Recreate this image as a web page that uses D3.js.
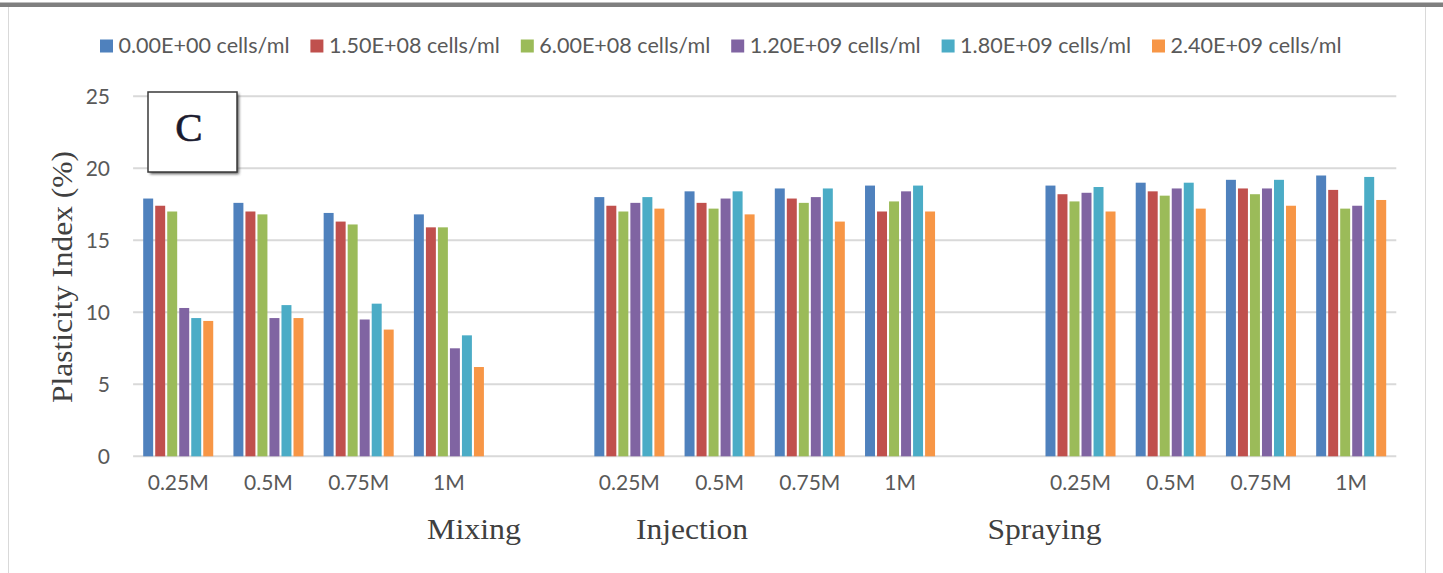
<!DOCTYPE html>
<html>
<head>
<meta charset="utf-8">
<script src="https://cdn.jsdelivr.net/npm/d3@7/dist/d3.min.js"></script>
<style>
  html, body { margin: 0; padding: 0; background: #fff; }
  svg { display: block; }
</style>
</head>
<body>
<svg id="chart" width="1443" height="573"></svg>
<script>
// data
const methods = ["Mixing", "Injection", "Spraying"];
const concentrations = ["0.25M", "0.5M", "0.75M", "1M"];
const seriesNames = ["0.00E+00 cells/ml", "1.50E+08 cells/ml", "6.00E+08 cells/ml",
                     "1.20E+09 cells/ml", "1.80E+09 cells/ml", "2.40E+09 cells/ml"];
const seriesColors = ["#4F81BD", "#C0504D", "#9BBB59", "#8064A2", "#4BACC6", "#F79646"];
const yTicks = [0, 5, 10, 15, 20, 25];

// one row per concentration, one value per series
const mixing = [
  [17.9, 17.4, 17.0, 10.3, 9.6, 9.4],
  [17.6, 17.0, 16.8, 9.6, 10.5, 9.6],
  [16.9, 16.3, 16.1, 9.5, 10.6, 8.8],
  [16.8, 15.9, 15.9, 7.5, 8.4, 6.2]
];
const injection = [
  [18.0, 17.4, 17.0, 17.6, 18.0, 17.2],
  [18.4, 17.6, 17.2, 17.9, 18.4, 16.8],
  [18.6, 17.9, 17.6, 18.0, 18.6, 16.3],
  [18.8, 17.0, 17.7, 18.4, 18.8, 17.0]
];
const spraying = [
  [18.8, 18.2, 17.7, 18.3, 18.7, 17.0],
  [19.0, 18.4, 18.1, 18.6, 19.0, 17.2],
  [19.2, 18.6, 18.2, 18.6, 19.2, 17.4],
  [19.5, 18.5, 17.2, 17.4, 19.4, 17.8]
];
const methodValues = [mixing, injection, spraying];

// build category slots (an empty slot between methods)
const slots = [];
methods.forEach((m, mi) => {
  concentrations.forEach((c, ci) => {
    slots.push({ key: m + "|" + c, label: c, values: methodValues[mi][ci] });
  });
  if (mi < methods.length - 1) slots.push({ key: "gap" + mi, label: "", values: [] });
});

const svg = d3.select("#chart");
const fontSans = "Lato, 'Open Sans', sans-serif";
const fontSerif = "'Liberation Serif', 'Times New Roman', serif";

// frame
svg.append("rect")
  .attr("x", 8.5).attr("y", 6.5)
  .attr("width", 1417).attr("height", 580)
  .attr("fill", "#fff").attr("stroke", "#d9d9d9").attr("stroke-width", 1);
svg.append("rect")
  .attr("x", 0).attr("y", 2.5)
  .attr("width", 1443).attr("height", 4.5)
  .attr("fill", "#7f7f7f");

const x0 = d3.scaleBand()
  .domain(slots.map(d => d.key))
  .range([133.1, 1396.3])
  .padding(0);

const groupPad = 10.1;
const x1 = d3.scaleBand()
  .domain(d3.range(seriesNames.length))
  .range([groupPad, x0.bandwidth() - groupPad])
  .paddingInner(0.17);

const y = d3.scaleLinear().domain([0, 25]).range([456.3, 96.3]);

// gridlines
svg.append("g")
  .selectAll("line")
  .data(yTicks)
  .enter().append("line")
  .attr("x1", x0.range()[0]).attr("x2", x0.range()[1])
  .attr("y1", d => y(d)).attr("y2", d => y(d))
  .attr("stroke", "#d9d9d9").attr("stroke-width", 2);

// y axis labels
const yAxis = svg.append("g")
  .attr("transform", "translate(110,0)")
  .call(d3.axisLeft(y).tickValues(yTicks).tickSize(0).tickPadding(0));
yAxis.select(".domain").remove();
yAxis.selectAll("text")
  .attr("fill", "#595959")
  .style("font-family", fontSans)
  .style("font-size", "21px");

// bars
const groups = svg.append("g")
  .selectAll("g")
  .data(slots)
  .enter().append("g")
  .attr("transform", d => `translate(${x0(d.key)},0)`);

groups.selectAll("rect")
  .data(d => d.values.map((v, i) => ({ i: i, v: v })))
  .enter().append("rect")
  .attr("x", d => x1(d.i))
  .attr("width", x1.bandwidth())
  .attr("y", d => y(d.v))
  .attr("height", d => y(0) - y(d.v))
  .attr("fill", d => seriesColors[d.i]);

// x axis category labels
const xAxis = svg.append("g")
  .attr("transform", "translate(0,475)")
  .call(d3.axisBottom(x0).tickSize(0).tickPadding(0).tickFormat(k => slots.find(s => s.key === k).label));
xAxis.select(".domain").remove();
xAxis.selectAll("text")
  .attr("fill", "#595959")
  .style("font-family", fontSans)
  .style("font-size", "21px");

// method labels under the axis
const methodLabelPos = [
  { text: "Mixing", cx: 474, w: 94 },
  { text: "Injection", cx: 692, w: 112 },
  { text: "Spraying", cx: 1044.5, w: 114 }
];
svg.append("g")
  .selectAll("text")
  .data(methodLabelPos)
  .enter().append("text")
  .attr("x", d => d.cx)
  .attr("y", 539)
  .attr("text-anchor", "middle")
  .attr("textLength", d => d.w)
  .attr("lengthAdjust", "spacingAndGlyphs")
  .attr("fill", "#404040")
  .style("font-family", fontSerif)
  .style("font-size", "29px")
  .text(d => d.text);

// y axis title
svg.append("text")
  .attr("transform", "translate(72,277) rotate(-90)")
  .attr("text-anchor", "middle")
  .attr("textLength", 252)
  .attr("lengthAdjust", "spacingAndGlyphs")
  .attr("fill", "#404040")
  .style("font-family", fontSerif)
  .style("font-size", "30px")
  .text("Plasticity Index (%)");

// legend
const legend = svg.append("g").attr("transform", "translate(100,39.5)");
const items = legend.selectAll("g")
  .data(seriesNames)
  .enter().append("g")
  .attr("transform", (d, i) => `translate(${i * 210.4},0)`);
items.append("rect")
  .attr("width", 13).attr("height", 13)
  .attr("fill", (d, i) => seriesColors[i]);
items.append("text")
  .attr("x", 18.5).attr("y", 13)
  .attr("textLength", 171)
  .attr("lengthAdjust", "spacingAndGlyphs")
  .attr("fill", "#595959")
  .style("font-family", fontSans)
  .style("font-size", "21px")
  .text(d => d);

// "C" panel box
const defs = svg.append("defs");
defs.append("filter").attr("id", "shadow")
  .attr("x", "-20%").attr("y", "-20%").attr("width", "140%").attr("height", "140%")
  .append("feGaussianBlur").attr("stdDeviation", 1.6);
const box = svg.append("g").attr("transform", "translate(148,92)");
box.append("rect")
  .attr("x", 2).attr("y", 2).attr("width", 89).attr("height", 80)
  .attr("fill", "#555").attr("filter", "url(#shadow)");
box.append("rect")
  .attr("width", 89).attr("height", 80)
  .attr("fill", "#fff").attr("stroke", "#3a3a3a").attr("stroke-width", 1.5);
box.append("text")
  .attr("x", 41).attr("y", 49)
  .attr("text-anchor", "middle")
  .attr("fill", "#1a1a2e")
  .attr("stroke", "#1a1a2e").attr("stroke-width", 0.6)
  .style("font-family", fontSerif)
  .style("font-size", "41px")
  .text("C");
</script>
</body>
</html>
